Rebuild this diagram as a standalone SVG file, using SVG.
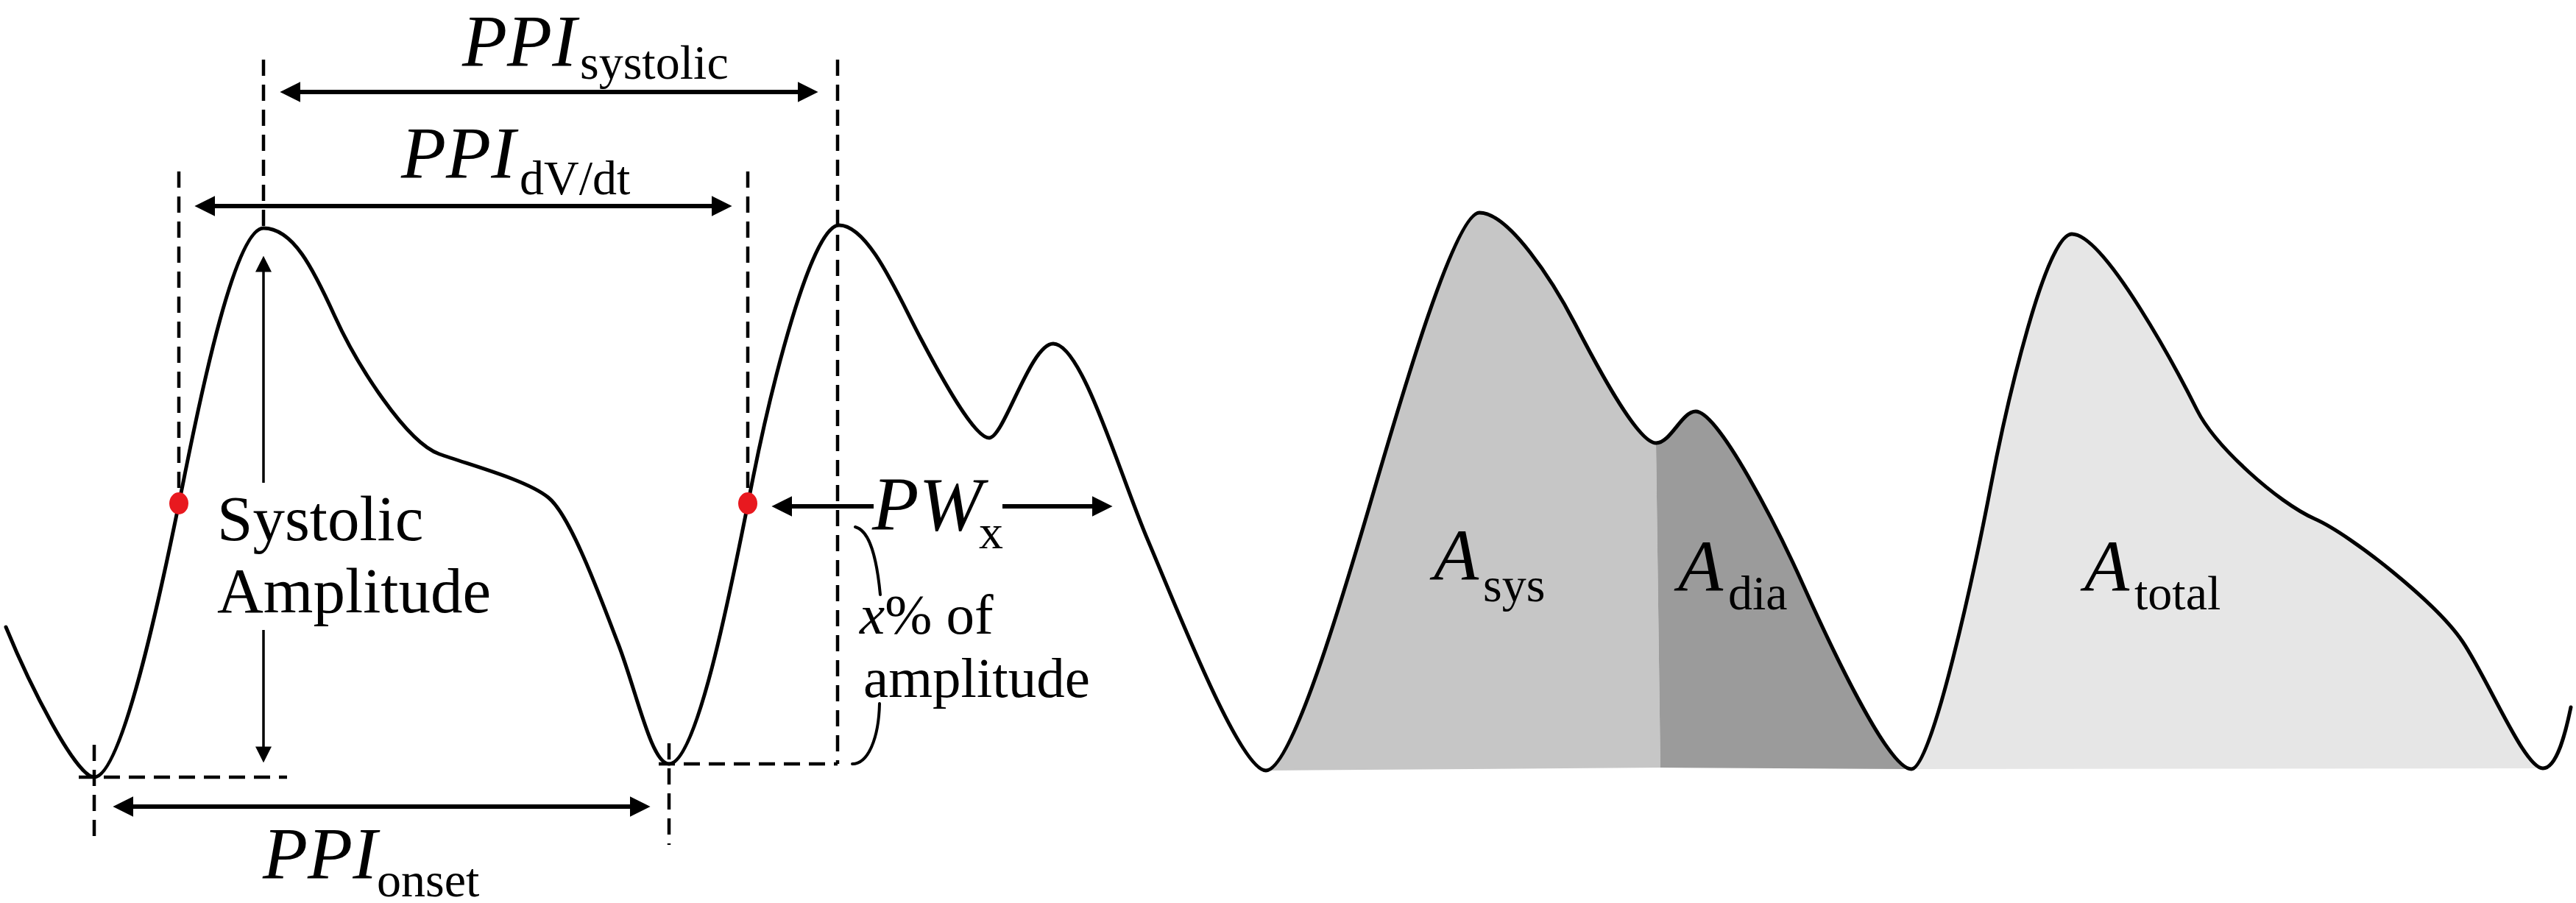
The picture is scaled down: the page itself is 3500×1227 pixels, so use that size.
<svg xmlns="http://www.w3.org/2000/svg" width="3500" height="1227" viewBox="0 0 3500 1227">
<style>
.wave{fill:none;stroke:#000;stroke-width:5;stroke-linejoin:round;stroke-linecap:round}
.guide{fill:none;stroke:#000;stroke-width:4.5;stroke-dasharray:22 12}
.arr{fill:none;stroke:#000;stroke-width:6}
.arrt{fill:none;stroke:#000;stroke-width:3.5}
.brace{fill:none;stroke:#000;stroke-width:4;stroke-linecap:round}
.t{font-family:"Liberation Serif","Times New Roman","DejaVu Serif",serif;fill:#000}
.it{font-style:italic}
.big{font-size:100px}
.sub{font-size:66px}
.mid{font-size:87px}
.sm{font-size:77px}
.dot{fill:#e8191f}
</style>
<defs>
<marker id="ah" viewBox="0 0 10 10" refX="3" refY="5" markerWidth="28" markerHeight="28" markerUnits="userSpaceOnUse" orient="auto-start-reverse"><path d="M0,0 L10,5 L0,10 Z" fill="#000"/></marker>
<marker id="ahs" viewBox="0 0 10 10" refX="3" refY="5" markerWidth="22" markerHeight="25" markerUnits="userSpaceOnUse" orient="auto-start-reverse"><path d="M0,0 L10,5 L0,10 Z" fill="#000"/></marker>
</defs>
<rect width="3500" height="1227" fill="#fff"/>

<g id="areas">
<path id="area-sys" fill="#c6c6c6" d="M1720,1047 C1755,1047 1825,809 1860,690 C1895,571 1975,289 2010,289 C2050,289 2110,382 2140,440 C2170,498 2225,602 2250,602 L2256,1043 Z"/>
<path id="area-dia" fill="#9b9b9b" d="M2250,602 C2270,602 2285,559 2304,559 C2335,559 2415,717 2450,795 C2485,873 2565,1045 2597,1045 L2256,1043 Z"/>
<path id="area-total" fill="#e6e6e6" d="M2597,1045 C2625,1045 2683,775 2705,660 C2727,545 2780,318 2815,318 C2860,318 2960,507 2985,557 C3010,607 3095,683 3145,705 C3195,727 3311,820 3346,872 C3381,924 3430,1044 3455,1044 Z"/>
</g>

<g id="waveform">
<path class="wave" d="M8,852 C40,930 103,1056 128,1056 C168,1056 226,770 250,650 C274,530 320,310 358,310 C398,310 425,364 455,430 C485,496 552,601 597,617 C642,633 715,652 745,676 C775,700 815,810 840,875 C865,940 885,1038 909,1038 C949,1038 999,770 1023,650 C1047,530 1102,306 1140,306 C1180,306 1220,401 1250,458 C1280,515 1324,595 1344,595 C1364,595 1400,467 1431,467 C1470,467 1520,641 1560,735 C1600,829 1685,1047 1720,1047 C1755,1047 1825,809 1860,690 C1895,571 1975,289 2010,289 C2050,289 2110,382 2140,440 C2170,498 2225,602 2250,602 C2270,602 2285,559 2304,559 C2335,559 2415,717 2450,795 C2485,873 2565,1045 2597,1045 C2625,1045 2683,775 2705,660 C2727,545 2780,318 2815,318 C2860,318 2960,507 2985,557 C3010,607 3095,683 3145,705 C3195,727 3311,820 3346,872 C3381,924 3430,1044 3455,1044 C3475,1044 3487,990 3493,961"/>
</g>

<g id="guides">
<line class="guide" x1="243" y1="233" x2="243" y2="684"/>
<line class="guide" x1="358" y1="81" x2="358" y2="310"/>
<line class="guide" x1="1016" y1="233" x2="1016" y2="684"/>
<line class="guide" x1="1138" y1="81" x2="1138" y2="1038"/>
<line class="guide" x1="107" y1="1056" x2="390" y2="1056"/>
<line class="guide" x1="895" y1="1038" x2="1138" y2="1038"/>
<line class="guide" x1="128" y1="1012" x2="128" y2="1148"/>
<line class="guide" x1="909" y1="1010" x2="909" y2="1148"/>
</g>

<g id="connectors">
<line class="arr" x1="400" y1="125" x2="1092" y2="125" marker-start="url(#ah)" marker-end="url(#ah)"/>
<line class="arr" x1="284" y1="280" x2="975" y2="280" marker-start="url(#ah)" marker-end="url(#ah)"/>
<line class="arr" x1="173" y1="1096" x2="864" y2="1096" marker-start="url(#ah)" marker-end="url(#ah)"/>
<line class="arrt" x1="358" y1="656" x2="358" y2="363" marker-end="url(#ahs)"/>
<line class="arrt" x1="358" y1="856" x2="358" y2="1021" marker-end="url(#ahs)"/>
<line class="arr" x1="1187" y1="688" x2="1068" y2="688" marker-end="url(#ah)"/>
<line class="arr" x1="1362" y1="688" x2="1492" y2="688" marker-end="url(#ah)"/>
<path class="brace" d="M1162,716 C1178,720 1190,745 1196,808"/>
<path class="brace" d="M1195,956 C1194,1002 1180,1038 1158,1038"/>
</g>

<g id="points">
<ellipse class="dot" cx="243" cy="684" rx="13" ry="15"/>
<ellipse class="dot" cx="1016" cy="684" rx="13" ry="15"/>
</g>

<g id="labels">
<g id="lbl-ppi-systolic"><text class="t it big" x="628" y="89">PPI</text><text class="t sub" x="788" y="107">systolic</text></g>
<g id="lbl-ppi-dvdt"><text class="t it big" x="545" y="241">PPI</text><text class="t sub" x="706" y="264">dV/dt</text></g>
<g id="lbl-ppi-onset"><text class="t it big" x="357" y="1193">PPI</text><text class="t sub" x="512" y="1218">onset</text></g>
<g id="lbl-pw"><text class="t it" font-size="104" x="1185" y="720">PW</text><text class="t sub" x="1330" y="745">x</text></g>
<g id="lbl-xpct"><text class="t sm" x="1168" y="861"><tspan class="it">x</tspan>% of</text><text class="t sm" x="1173" y="947">amplitude</text></g>
<g id="lbl-sysamp"><text class="t mid" x="295" y="734">Systolic</text><text class="t mid" x="295" y="832">Amplitude</text></g>
<g id="lbl-asys"><text class="t it big" x="1948" y="788">A</text><text class="t sub" x="2015" y="817">sys</text></g>
<g id="lbl-adia"><text class="t it big" x="2280" y="803">A</text><text class="t sub" x="2348" y="828">dia</text></g>
<g id="lbl-atotal"><text class="t it big" x="2832" y="803">A</text><text class="t sub" x="2900" y="828">total</text></g>
</g>
</svg>
